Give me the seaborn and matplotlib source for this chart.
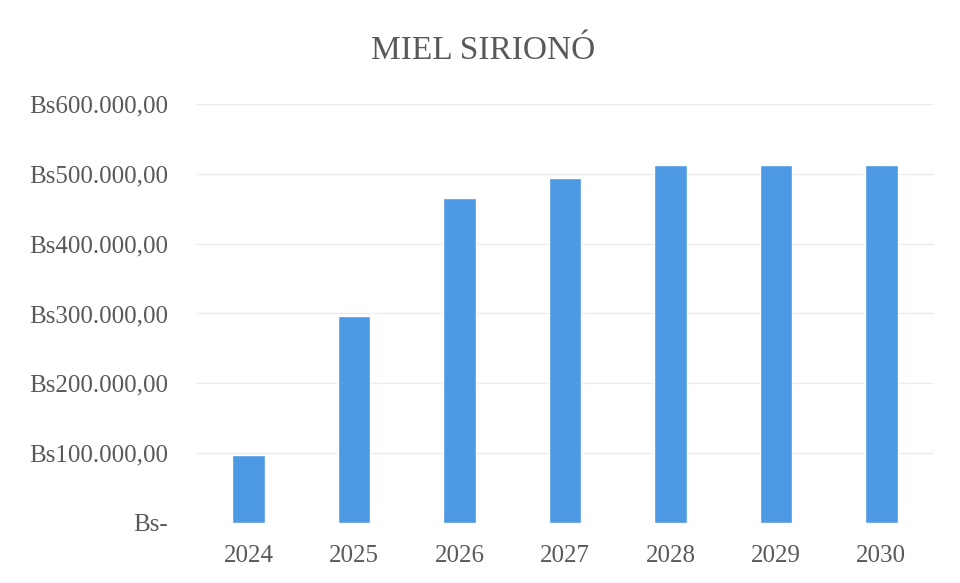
import matplotlib
matplotlib.use("Agg")
import matplotlib.pyplot as plt
from matplotlib.ticker import FuncFormatter
import seaborn as sns
import pandas as pd

years = ["2024", "2025", "2026", "2027", "2028", "2029", "2030"]
ingresos = [98000, 296000, 466000, 494000, 512000, 512000, 512000]
yticks = [0, 100000, 200000, 300000, 400000, 500000, 600000]

bar_color = "#4d99e3"
text_color = "#595959"

sns.set_theme(style="white")
plt.rcParams['font.family'] = ['Liberation Serif', 'DejaVu Serif']

data = pd.DataFrame({"anio": years, "valor": ingresos})

fig = plt.figure(figsize=(9.6, 5.83), dpi=100)
ax = fig.add_axes([0.204, 0.103, 0.769, 0.7186])

sns.barplot(data=data, x="anio", y="valor", color=bar_color, width=0.31,
            saturation=1, ax=ax)


def fmt(v, pos):
    if v == 0:
        return "Bs-"
    s = f"{v:,.2f}"
    s = s.replace(",", "X").replace(".", ",").replace("X", ".")
    return "Bs" + s


ax.set_ylim(0, 600000)
ax.set_yticks(yticks)
ax.yaxis.set_major_formatter(FuncFormatter(fmt))
ax.grid(axis="y", color="#ececec", linewidth=1)
ax.set_axisbelow(True)
for sp in ax.spines.values():
    sp.set_visible(False)
ax.tick_params(axis="both", length=0, labelsize=18, colors=text_color)
ax.tick_params(axis="y", pad=20)
ax.tick_params(axis="x", pad=16)
ax.set_xlabel("")
ax.set_ylabel("")

fig.text(0.503, 0.913, "MIEL SIRIONÓ", ha="center", va="center",
         fontsize=24, color=text_color)

fig.savefig("out.png", dpi=100, facecolor="white")
